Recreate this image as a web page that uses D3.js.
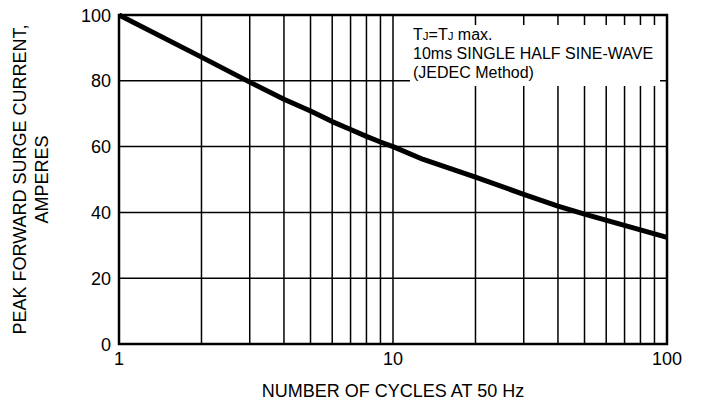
<!DOCTYPE html>
<html>
<head>
<meta charset="utf-8">
<script src="https://cdn.jsdelivr.net/npm/d3@7"></script>
<style>
  body { margin: 0; background: #fff; }
  text { font-family: "Liberation Sans", Arial, sans-serif; fill: #000; }
</style>
</head>
<body>
<div id="chart"></div>
<script>
// curve
var cycles = [1, 2, 3, 4, 5, 6, 7, 8, 9, 10, 12.9, 20, 30, 40, 50, 100];
var amps   = [100, 87.2, 79.6, 74.4, 70.8, 67.6, 65.2, 63.1, 61.4, 60, 56.1, 50.7, 45.5, 41.9, 39.5, 32.4];

var xTickLabels = [1, 10, 100];
var yTickLabels = [0, 20, 40, 60, 80, 100];
var xGrid = [2, 3, 4, 5, 6, 7, 8, 9, 10, 20, 30, 40, 50, 60, 70, 80, 90];
var noteLines = ["max.", "10ms SINGLE HALF SINE-WAVE", "(JEDEC Method)"];

var width = 707, height = 407;
var pLeft = 119, pRight = 667, pTop = 15, pBottom = 344;

var svg = d3.select("#chart").append("svg")
    .attr("width", width)
    .attr("height", height);

var x = d3.scaleLog().domain([1, 100]).range([pLeft, pRight]);
var y = d3.scaleLinear().domain([0, 100]).range([pBottom, pTop]);

// grid
svg.append("g").selectAll("line")
    .data(xGrid)
    .enter().append("line")
    .attr("x1", function(d) { return x(d); })
    .attr("x2", function(d) { return x(d); })
    .attr("y1", pTop)
    .attr("y2", pBottom)
    .style("stroke", "#000")
    .style("stroke-width", 1.5);

svg.append("g").selectAll("line")
    .data(yTickLabels.slice(1, 5))
    .enter().append("line")
    .attr("x1", pLeft)
    .attr("x2", pRight)
    .attr("y1", function(d) { return y(d); })
    .attr("y2", function(d) { return y(d); })
    .style("stroke", "#000")
    .style("stroke-width", 1.5);

// note box hides the grid behind it
svg.append("rect")
    .attr("x", 410)
    .attr("y", 25)
    .attr("width", 250)
    .attr("height", 61)
    .attr("fill", "#fff");

var note = svg.append("text")
    .attr("x", 413)
    .attr("y", 40)
    .style("font-size", "16px");
note.append("tspan").text("T");
note.append("tspan").text("J").style("font-size", "11.5px");
note.append("tspan").text("=T");
note.append("tspan").text("J").style("font-size", "11.5px");
note.append("tspan").text(" " + noteLines[0]);

svg.selectAll(".noteLine")
    .data(noteLines.slice(1))
    .enter().append("text")
    .attr("class", "noteLine")
    .attr("x", 413)
    .attr("y", function(d, i) { return 59 + i * 19; })
    .style("font-size", "16px")
    .text(function(d) { return d; });

// frame
svg.append("rect")
    .attr("x", pLeft)
    .attr("y", pTop)
    .attr("width", pRight - pLeft)
    .attr("height", pBottom - pTop)
    .attr("fill", "none")
    .style("stroke", "#000")
    .style("stroke-width", 2.5);

// curve
var line = d3.line()
    .x(function(d, i) { return x(cycles[i]); })
    .y(function(d) { return y(d); });

svg.append("path")
    .datum(amps)
    .attr("d", line)
    .attr("fill", "none")
    .style("stroke", "#000")
    .style("stroke-width", 5)
    .style("stroke-linejoin", "round");

// tick labels
svg.selectAll(".xl")
    .data(xTickLabels)
    .enter().append("text")
    .attr("class", "xl")
    .attr("x", function(d) { return x(d); })
    .attr("y", pBottom + 21)
    .attr("text-anchor", "middle")
    .style("font-size", "18px")
    .text(function(d) { return d; });

svg.selectAll(".yl")
    .data(yTickLabels)
    .enter().append("text")
    .attr("class", "yl")
    .attr("x", pLeft - 8)
    .attr("y", function(d) { return y(d) + 6.5; })
    .attr("text-anchor", "end")
    .style("font-size", "18px")
    .text(function(d) { return d; });

// axis titles
svg.append("text")
    .attr("x", x(10))
    .attr("y", 397)
    .attr("text-anchor", "middle")
    .style("font-size", "18px")
    .text("NUMBER OF CYCLES AT 50 Hz");

var yt = svg.append("text")
    .attr("transform", "translate(26," + ((pTop + pBottom) / 2) + ") rotate(-90)")
    .attr("text-anchor", "middle")
    .style("font-size", "18px");
yt.append("tspan").attr("x", 0).attr("dy", 0).text("PEAK FORWARD SURGE CURRENT,");
yt.append("tspan").attr("x", 0).attr("dy", 22).text("AMPERES");
</script>
</body>
</html>
